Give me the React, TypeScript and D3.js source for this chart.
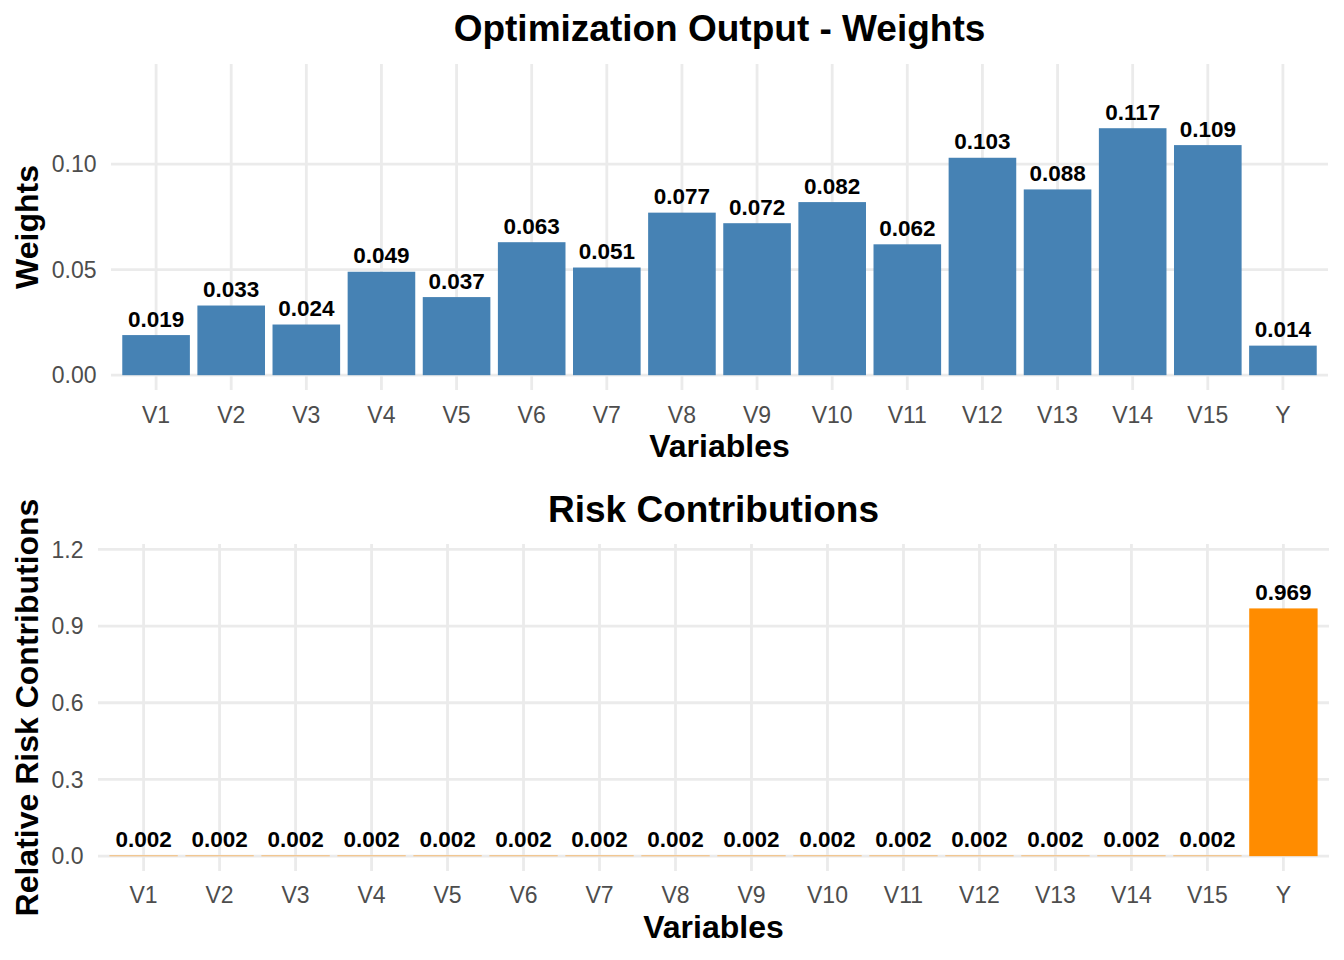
import * as d3 from "d3";

const W = 1344;
const H = 960;
const FONT = "'Liberation Sans', Arial, Helvetica, sans-serif";

const variables = ["V1", "V2", "V3", "V4", "V5", "V6", "V7", "V8", "V9", "V10", "V11", "V12", "V13", "V14", "V15", "Y"];
const weights = [0.019, 0.033, 0.024, 0.049, 0.037, 0.063, 0.051, 0.077, 0.072, 0.082, 0.062, 0.103, 0.088, 0.117, 0.109, 0.014];
const riskContrib = [0.002, 0.002, 0.002, 0.002, 0.002, 0.002, 0.002, 0.002, 0.002, 0.002, 0.002, 0.002, 0.002, 0.002, 0.002, 0.969];
const weightTicks = [0, 0.05, 0.1];
const riskTicks = [0, 0.3, 0.6, 0.9, 1.2];

const STEEL = "#4682B4";
const ORANGE = "#FF8C00";
const GRID = "#EBEBEB";
const TICK = "#4D4D4D";

type PanelProps = {
  title: string;
  yLabel: string;
  values: number[];
  ticks: number[];
  tickFmt: (v: number) => string;
  fill: string;
  left: number;
  right: number;
  top: number;
  bottom: number;
  titleY: number;
  tickY: number;
  xTitleY: number;
};

function Panel({ title, yLabel, values, ticks, tickFmt, fill, left, right, top, bottom, titleY, tickY, xTitleY }: PanelProps) {
  const x = d3.scaleBand<string>().domain(variables).range([left, right]).paddingInner(0.1).paddingOuter(0.15);
  // upper limit is 1.2 x the max, then ggplot's 5% expansion on both ends
  const hi = (d3.max(values) ?? 1) * 1.2;
  const pad = hi * 0.05;
  const y = d3.scaleLinear().domain([-pad, hi + pad]).range([bottom, top]);
  const cx = (left + right) / 2;
  const cy = (top + bottom) / 2;

  return (
    <g>
      {/* grid */}
      {ticks.map((t) => (
        <line key={`h${t}`} x1={left} x2={right} y1={y(t)} y2={y(t)} stroke={GRID} strokeWidth={2.8} />
      ))}
      {variables.map((v) => {
        const gx = (x(v) ?? 0) + x.bandwidth() / 2;
        return <line key={`v${v}`} x1={gx} x2={gx} y1={top} y2={bottom} stroke={GRID} strokeWidth={2.8} />;
      })}

      {/* bars + labels */}
      {values.map((d, i) => {
        const v = variables[i];
        const bx = x(v) ?? 0;
        return (
          <g key={v}>
            <rect x={bx} width={x.bandwidth()} y={y(d)} height={Math.max(0.4, y(0) - y(d))} fill={fill} />
            <text x={bx + x.bandwidth() / 2} y={y(d) - 8.5} textAnchor="middle" fontSize={22.5} fontWeight={700} fill="#000">
              {d.toFixed(3)}
            </text>
          </g>
        );
      })}

      {/* y tick labels */}
      {ticks.map((t) => (
        <text key={`t${t}`} x={left - 14.5} y={y(t) + 8.2} textAnchor="end" fontSize={23} fill={TICK}>
          {tickFmt(t)}
        </text>
      ))}
      {/* x tick labels */}
      {variables.map((v) => (
        <text key={`x${v}`} x={(x(v) ?? 0) + x.bandwidth() / 2} y={tickY} textAnchor="middle" fontSize={23} fill={TICK}>
          {v}
        </text>
      ))}

      <text x={cx} y={titleY} textAnchor="middle" fontSize={37} fontWeight={700} fill="#000">{title}</text>
      <text x={cx} y={xTitleY} textAnchor="middle" fontSize={32} fontWeight={700} fill="#000">Variables</text>
      <text transform={`translate(38,${cy}) rotate(-90)`} textAnchor="middle" fontSize={32} fontWeight={700} fill="#000">{yLabel}</text>
    </g>
  );
}

export default function App() {
  return (
    <svg width={W} height={H} style={{ position: "absolute", left: 0, top: 0, background: "#fff" }} fontFamily={FONT}>
      <rect width={W} height={H} fill="#fff" />
      <Panel
        title="Optimization Output - Weights"
        yLabel="Weights"
        values={weights}
        ticks={weightTicks}
        tickFmt={d3.format(".2f")}
        fill={STEEL}
        left={111}
        right={1328}
        top={64}
        bottom={390}
        titleY={41}
        tickY={422.5}
        xTitleY={457}
      />
      <Panel
        title="Risk Contributions"
        yLabel="Relative Risk Contributions"
        values={riskContrib}
        ticks={riskTicks}
        tickFmt={d3.format(".1f")}
        fill={ORANGE}
        left={98}
        right={1329}
        top={544}
        bottom={871}
        titleY={522}
        tickY={902.5}
        xTitleY={938}
      />
    </svg>
  );
}
